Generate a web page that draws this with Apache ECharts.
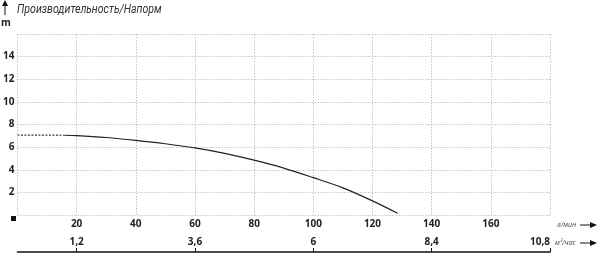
<!DOCTYPE html>
<html><head><meta charset="utf-8">
<script src="https://cdn.jsdelivr.net/npm/echarts@6/dist/echarts.min.js"></script>
<style>html,body{margin:0;padding:0;background:#fff}#c{width:600px;height:254px}</style>
</head><body><div id="c"></div>
<script>
// Flow (l/min) and head (m)
const flowSolid = [16, 20, 30, 40, 50, 60, 70, 80, 90, 100, 110, 120, 128.5];
const headSolid = [7.05, 7.02, 6.85, 6.6, 6.3, 5.93, 5.45, 4.85, 4.15, 3.3, 2.4, 1.25, 0.15];
const flowDashed = [0, 16];
const headDashed = [7.07, 7.05];
const m3hTicks = [1.2, 3.6, 6, 8.4, 10.8];
const titleText = 'Производительность/Напорм';
const yUnit = 'm';
const xUnit1 = 'л/мин';
const xUnit2 = 'м³/час';

const chart = echarts.init(document.getElementById('c'), null, {renderer: 'canvas'});
const font = '"Open Sans", "DejaVu Sans", sans-serif';
const titleFont = 'Roboto, "Open Sans", sans-serif';
const gridLine = {show: true, lineStyle: {color: '#c4c4c4', type: [1.5, 1.5], width: 1}};

function arrowRight(x, y) {
  return {type: 'group', children: [
    {type: 'line', shape: {x1: x, y1: y, x2: x + 12, y2: y}, style: {stroke: '#111', lineWidth: 1}},
    {type: 'polygon', shape: {points: [[x + 10, y - 3], [x + 17, y], [x + 10, y + 3]]}, style: {fill: '#111'}}
  ]};
}

chart.setOption({
  animation: false,
  grid: {left: 15, right: 50, top: 34, bottom: 39, containLabel: false},
  xAxis: [{
    type: 'value', min: 0, max: 180, interval: 20, position: 'bottom',
    axisLine: {show: false}, axisTick: {show: false}, splitLine: gridLine,
    axisLabel: {margin: 4, color: '#222', fontWeight: 'bold', fontSize: 10, fontFamily: font,
      formatter: v => (v === 0 || v === 180) ? '' : String(v)}
  }, {
    type: 'value', min: 0, max: 10.8, position: 'bottom', offset: 37,
    axisLine: {show: true, lineStyle: {color: '#111', width: 1.5}},
    axisTick: {show: true, inside: true, length: 4, customValues: m3hTicks, lineStyle: {color: '#111'}},
    splitLine: {show: false},
    axisLabel: {inside: true, margin: 5, color: '#222', fontWeight: 'bold', fontSize: 10, fontFamily: font,
      alignMaxLabel: 'right',
      customValues: m3hTicks, formatter: v => String(v).replace('.', ',')}
  }],
  yAxis: {
    type: 'value', min: 0, max: 16, interval: 2,
    axisLine: {show: false}, axisTick: {show: false}, splitLine: gridLine,
    axisLabel: {margin: 3, color: '#222', fontWeight: 'bold', fontSize: 10, fontFamily: font,
      formatter: v => (v === 0 || v === 16) ? '' : String(v)}
  },
  series: [{
    type: 'line', xAxisIndex: 0, smooth: 0.3, symbol: 'none',
    data: flowSolid.map((q, i) => [q, headSolid[i]]),
    lineStyle: {color: '#222', width: 1.2}
  }, {
    type: 'line', xAxisIndex: 0, symbol: 'none',
    data: flowDashed.map((q, i) => [q, headDashed[i]]),
    lineStyle: {color: '#333', width: 1.2, type: [2, 1.5]}
  }],
  graphic: [
    {type: 'line', shape: {x1: 5, y1: 15, x2: 5, y2: 4}, style: {stroke: '#111', lineWidth: 1}},
    {type: 'polygon', shape: {points: [[2, 6], [5, 0], [8, 6]]}, style: {fill: '#111'}},
    {type: 'text', x: 17, y: 4, scaleX: 0.88, style: {text: titleText, font: 'italic 12px ' + titleFont, fill: '#333'}},
    {type: 'text', left: 1, top: 18, style: {text: yUnit, font: 'bold 10px ' + font, fill: '#222'}},
    {type: 'rect', shape: {x: 11, y: 216, width: 5, height: 5}, style: {fill: '#111'}},
    {type: 'text', x: 557, y: 221, style: {text: xUnit1, font: 'italic 7px ' + font, fill: '#444'}},
    {type: 'text', x: 555, y: 239, style: {text: xUnit2, font: 'italic 7px ' + font, fill: '#444'}},
    arrowRight(580, 225),
    arrowRight(580, 243)
  ]
});
</script></body></html>
